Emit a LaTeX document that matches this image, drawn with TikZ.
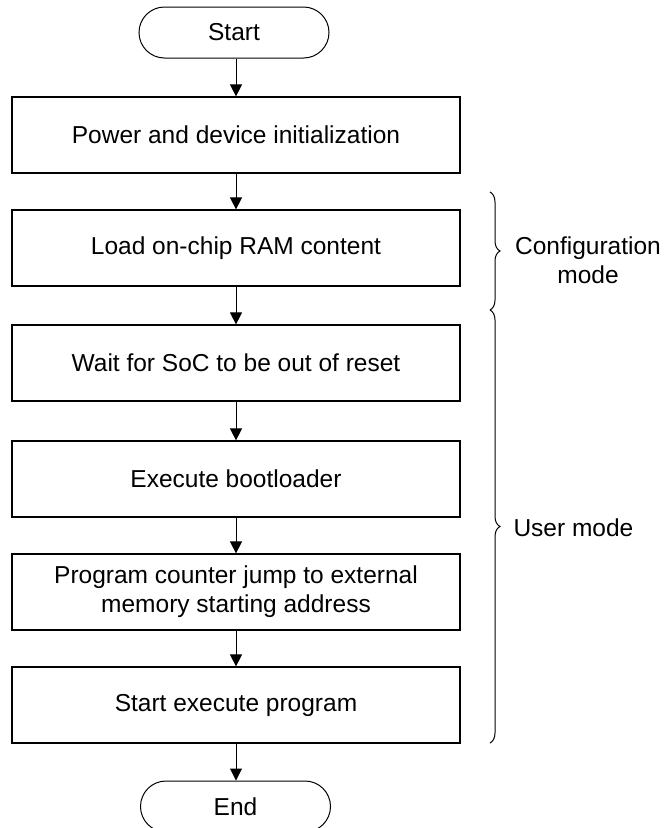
\documentclass[tikz,border=0pt]{standalone}
\usepackage{fontspec}
\setmainfont{Liberation Sans}
\usetikzlibrary{arrows.meta,shapes.misc,decorations.pathreplacing}
\begin{document}
\begin{tikzpicture}[x=1pt,y=-1pt,
  every node/.style={font=\fontsize{24.5}{29}\selectfont},
  stepbox/.style={draw,line width=1.2pt,minimum width=448pt,minimum height=76pt,inner sep=0pt,align=center},
  term/.style={draw,line width=1pt,rounded rectangle,minimum width=190pt,minimum height=51pt,inner sep=0pt},
  flow/.style={line width=1pt,-{Triangle[width=12pt,length=12pt]}},
  bracestyle/.style={line width=1pt,decorate,decoration={brace,amplitude=10pt}}]
\useasboundingbox (0,0) rectangle (664,828);
\clip (0,0) rectangle (664,828);
\node[term] (start) at (234,32.5) {Start};
\node[stepbox] (b1) at (236,135) {Power and device initialization};
\node[stepbox] (b2) at (236,248) {Load on-chip RAM content};
\node[stepbox] (b3) at (236,363) {Wait for SoC to be out of reset};
\node[stepbox] (b4) at (236,479) {Execute bootloader};
\node[stepbox] (b5) at (236,592) {Program counter jump to external\\memory starting address};
\node[stepbox] (b6) at (236,705) {Start execute program};
\node[term] (end) at (235.5,806.5) {End};
\draw[flow] (start.south -| b1.north) -- (b1.north);
\draw[flow] (b1) -- (b2);
\draw[flow] (b2) -- (b3);
\draw[flow] (b3) -- (b4);
\draw[flow] (b4) -- (b5);
\draw[flow] (b5) -- (b6);
\draw[flow] (b6.south) -- (b6.south |- end.north);
\coordinate (c1) at (490,192);
\coordinate (c2) at (490,310);
\coordinate (c3) at (490,743);
\draw[bracestyle] (c1) -- (c2);
\draw[bracestyle] (c2) -- (c3);
\node[align=center] (cfg) at (588,260) {Configuration\\mode};
\node[anchor=west] (usr) at (510,528) {User mode};
\end{tikzpicture}
\end{document}
